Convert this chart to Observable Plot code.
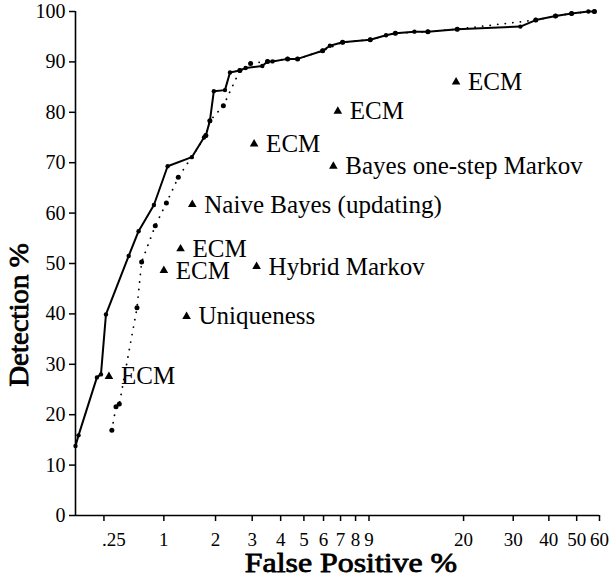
<!DOCTYPE html>
<html>
<head>
<meta charset="utf-8">
<script src="https://cdn.jsdelivr.net/npm/d3@7"></script>
<script src="https://cdn.jsdelivr.net/npm/@observablehq/plot@0.6"></script>
<style>
  html, body { margin: 0; padding: 0; background: #fff; }
  #chart { width: 614px; height: 578px; }
</style>
</head>
<body>
<div id="chart"></div>
<script>
// Solid curve (false positive %, detection %)
const solidFP  = [0.0, 0.024, 0.183, 0.221, 0.27, 0.518, 0.64, 0.85, 1.06, 1.49, 1.74, 1.78, 1.87, 1.96, 2.23, 2.36, 2.63, 2.80, 3.33, 3.51, 3.69, 4.28, 4.71, 5.95, 6.36, 7.13, 9.10, 10.43, 11.3, 13.28, 14.87, 18.98, 31.8, 36.0, 42.2, 48.0, 54.9, 57.6];
const solidDet = [13.8, 15.9, 27.4, 28.0, 39.9, 51.5, 56.4, 61.6, 69.3, 71.1, 75.0, 75.4, 78.3, 84.2, 84.4, 87.9, 88.3, 88.8, 89.2, 90.1, 90.1, 90.6, 90.6, 92.2, 93.2, 93.9, 94.4, 95.3, 95.7, 96.0, 96.0, 96.5, 97.0, 98.3, 99.1, 99.6, 100, 100];

// Dotted curve
const dottedFP  = [0.33, 0.374, 0.41, 0.62, 0.68, 0.87, 1.04, 1.24, 1.78, 1.87, 2.19, 2.63, 2.95, 3.51, 4.28, 4.71, 5.95, 7.13, 9.10, 11.3, 14.87, 18.98, 36.0, 42.2, 48.0, 57.6];
const dottedDet = [16.9, 21.6, 22.1, 41.2, 50.3, 57.5, 62.0, 67.1, 75.4, 78.3, 81.3, 88.3, 89.7, 90.1, 90.6, 90.6, 92.2, 93.9, 94.4, 95.7, 96.0, 96.5, 98.3, 99.1, 99.6, 100];

// Individual methods (triangles)
const methodFP    = [0.30, 1.0, 1.28, 1.39, 1.50, 3.14, 3.06, 6.83, 6.56, 18.8];
const methodDet   = [27.6, 48.6, 52.9, 39.5, 61.7, 49.4, 73.7, 80.2, 69.3, 86.0];
const methodLabel = ["ECM", "ECM", "ECM", "Uniqueness", "Naive Bayes (updating)", "Hybrid Markov", "ECM", "ECM", "Bayes one-step Markov", "ECM"];

// Axis ticks
const xTicks = [0.25, 1, 2, 3, 4, 5, 6, 7, 8, 9, 20, 30, 40, 50, 60];
const xTickLabels = [".25", "1", "2", "3", "4", "5", "6", "7", "8", "9", "20", "30", "40", "50", "60"];
const yTicks = [0, 10, 20, 30, 40, 50, 60, 70, 80, 90, 100];
const xTitle = "False Positive %";
const yTitle = "Detection %";

const solid = solidFP.map((x, i) => ({x, y: solidDet[i]}));
const dotted = dottedFP.map((x, i) => ({x, y: dottedDet[i]}));
const methods = methodFP.map((x, i) => ({x, y: methodDet[i], label: methodLabel[i]}));
const xLabelMap = new Map(xTicks.map((t, i) => [t, xTickLabels[i]]));

const serif = "Liberation Serif";

const chart = Plot.plot({
  width: 614,
  height: 578,
  marginLeft: 75,
  marginRight: 15,
  marginTop: 11,
  marginBottom: 63,
  style: {fontFamily: serif, fontSize: "20px", color: "black", background: "white"},
  x: {type: "symlog", constant: 1, domain: [0, 60]},
  y: {type: "linear", domain: [0, 100]},
  marks: [
    // tick marks + labels (first label nudged right as in the reference)
    Plot.axisX({ticks: xTicks, tickFormat: d => d === xTicks[0] ? "" : xLabelMap.get(d), tickSize: 6, tickPadding: 11, strokeWidth: 1.5, label: null, fontSize: 19, fontFamily: serif}),
    Plot.axisX({ticks: [xTicks[0]], tickFormat: d => xLabelMap.get(d), tickSize: 0, tickPadding: 17, dx: 10, label: null, fontSize: 19, fontFamily: serif}),
    Plot.axisY({ticks: yTicks, tickSize: 6, tickPadding: 4, strokeWidth: 1.5, label: null, fontSize: 20, fontFamily: serif}),
    Plot.ruleY([0], {stroke: "black", strokeWidth: 1.6}),
    Plot.ruleX([0], {stroke: "black", strokeWidth: 1.6}),
    Plot.line(dotted, {x: "x", y: "y", stroke: "black", strokeWidth: 1.8, strokeDasharray: "0.1,7.5", strokeLinecap: "round"}),
    Plot.dot(dotted, {x: "x", y: "y", r: 2.5, fill: "black"}),
    Plot.line(solid, {x: "x", y: "y", stroke: "black", strokeWidth: 2}),
    Plot.dot(solid, {x: "x", y: "y", r: 2.2, fill: "black"}),
    Plot.dot(methods, {x: "x", y: "y", symbol: "triangle", r: 3.2, fill: "black"}),
    Plot.text(methods, {x: "x", y: "y", text: "label", textAnchor: "start", dx: 12, fontSize: 25, fill: "black", fontFamily: serif})
  ]
});

// Axis titles (bold serif emulated with a thin outline; positioned as in the reference)
const svg = d3.select(chart);
svg.append("text")
  .attr("transform", "translate(351,572) scale(1.18,1)")
  .attr("text-anchor", "middle")
  .attr("font-family", serif)
  .attr("font-size", 27)
  .attr("fill", "black")
  .attr("stroke", "black")
  .attr("stroke-width", 0.8)
  .text(xTitle);
svg.append("text")
  .attr("transform", "translate(28,315) rotate(-90) scale(1.07,1)")
  .attr("text-anchor", "middle")
  .attr("font-family", serif)
  .attr("font-size", 27)
  .attr("fill", "black")
  .attr("stroke", "black")
  .attr("stroke-width", 0.8)
  .text(yTitle);

document.getElementById("chart").appendChild(chart);
</script>
</body>
</html>
